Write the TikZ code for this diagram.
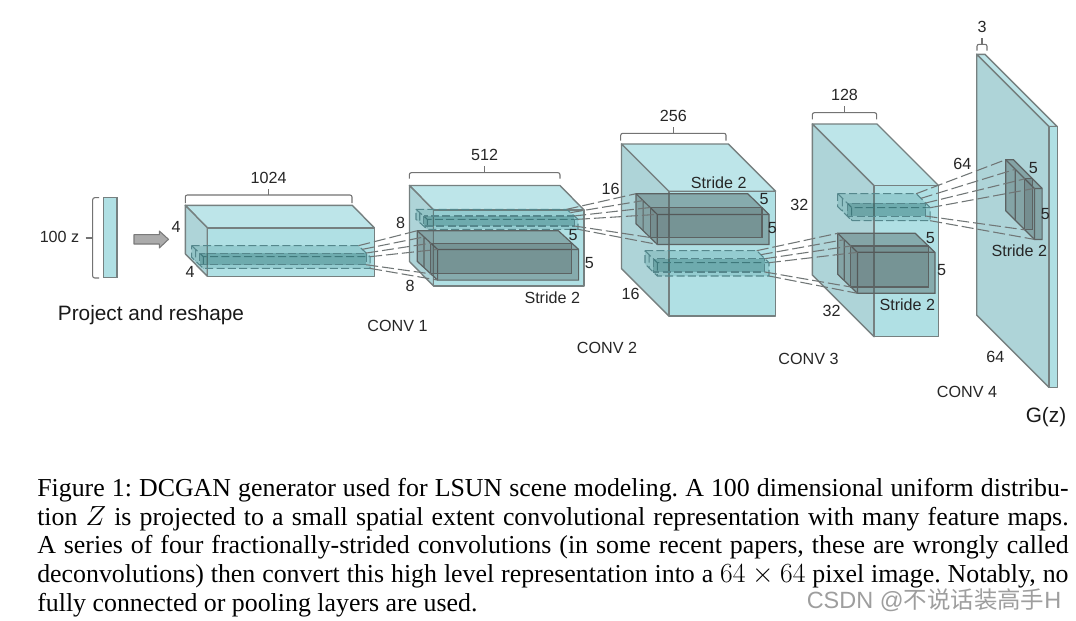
\documentclass[tikz,border=0pt]{standalone}
\usepackage[no-math]{fontspec}
\setmainfont{Liberation Serif}
\newfontfamily\arialfont{Liberation Sans}
\newfontfamily\cjkfont{Noto Sans CJK SC}
\usetikzlibrary{calc}
\definecolor{faceF}{RGB}{176,224,228}
\definecolor{faceT}{RGB}{189,229,233}
\definecolor{faceL}{RGB}{174,212,216}
\definecolor{edge}{RGB}{118,128,128}
\definecolor{kedge}{RGB}{92,98,98}
\definecolor{linkc}{RGB}{112,118,118}
\definecolor{dashc}{RGB}{85,135,140}
\tikzset{
  x=0.75pt,y=-0.75pt,
  cubeedge/.style={draw=edge,line width=1.05pt,line join=round},
  lab/.style={font=\arialfont\fontsize{12.1}{14}\selectfont,inner sep=0pt,text=black!85},
  bigl/.style={font=\arialfont\fontsize{15.6}{18}\selectfont,inner sep=0pt,text=black!90},
  bracket/.style={draw=black!55,line width=0.8pt,rounded corners=1.5pt},
  link/.style={draw=linkc,line width=0.8pt,dash pattern=on 9pt off 3pt},
  solidk/.style={draw=kedge,line width=0.9pt,fill=black!55!teal!40!gray,fill opacity=0.42},
  solidm/.style={draw=kedge,line width=0.9pt,fill=black!55!gray,fill opacity=0.2},
  dashk/.style={draw=dashc,line width=0.8pt,dash pattern=on 6pt off 2.5pt,fill=teal!70!gray,fill opacity=0.2},
  dashm/.style={draw=dashc,line width=0.8pt,dash pattern=on 6pt off 2.5pt,fill=teal!60!black,fill opacity=0.25},
}
% #1 name, #2 x, #3 y, #4 w, #5 dx, #6 dy, #7 h
\newcommand\cubeblock[7]{%
  \coordinate (#1-o) at (#2,#3);
  \fill[faceT,cubeedge] (#2,#3) -- ({#2+#4},#3) -- ({#2+#4+#5},{#3+#6}) -- ({#2+#5},{#3+#6}) -- cycle;
  \fill[faceL,cubeedge] (#2,#3) -- ({#2+#5},{#3+#6}) -- ({#2+#5},{#3+#6+#7}) -- (#2,{#3+#7}) -- cycle;
  \fill[faceF,cubeedge] ({#2+#5},{#3+#6}) rectangle ({#2+#4+#5},{#3+#6+#7});
}
% #1 outer style, #2 inner style, #3 name, #4 x, #5 y, #6 w, #7 dx, #8 dy, #9 h
\newcommand\kernelbox[9]{%
  \pgfmathsetmacro\kxa{#4+#7/3}\pgfmathsetmacro\kya{#5+#8/3}%
  \pgfmathsetmacro\kxb{#4+2*#7/3}\pgfmathsetmacro\kyb{#5+2*#8/3}%
  \coordinate (#3-a) at (#4,#5);
  \coordinate (#3-b) at (\kxa,\kya);
  \coordinate (#3-c) at (\kxb,\kyb);
  \coordinate (#3-d) at ({#4+#7},{#5+#8});
  \coordinate (#3-e) at (\kxb,{\kyb+#9});
  \coordinate (#3-f) at ({#4+#7},{#5+#8+#9});
  \coordinate (#3-A) at ({#4+#6},#5);
  \coordinate (#3-B) at ({\kxa+#6},\kya);
  \coordinate (#3-C) at ({\kxb+#6},\kyb);
  \coordinate (#3-D) at ({#4+#7+#6},{#5+#8});
  \coordinate (#3-E) at ({\kxb+#6},{\kyb+#9});
  \coordinate (#3-F) at ({#4+#7+#6},{#5+#8+#9});
  \path[#1] (#3-a) -- (#3-A) -- (#3-D) -- (#3-F) -- (#3-f) -- (#4,{#5+#9}) -- cycle;
  \path[#1,fill=none] (#3-a) -- (#3-d) -- (#3-D) (#3-d) -- (#3-f)
     (#3-b) -- (\kxa,{\kya+#9});
  \path[#2] (#3-c) rectangle (#3-E);
}
\newcommand\bracketup[7]{% name,x1,x2,ybottom,ytop,ytick,label
  \draw[bracket] (#2,#4) -- (#2,#5) -- (#3,#5) -- (#3,#4);
  \draw[bracket] ({(#2+#3)/2},#5) -- ({(#2+#3)/2},#6);
  \node[lab] (#1) at ({(#2+#3)/2},{#6-11.5}) {#7};
}
\begin{document}
\begin{tikzpicture}
\useasboundingbox (0,0) rectangle (1076,621);
\fill[white] (0,0) rectangle (1076,621);

% input
\draw[bracket] (99,197.7) -- (92.7,197.7) -- (92.7,278) -- (99,278);
\draw[bracket] (85.7,238) -- (92.7,238);
\node[lab] (zlab) at (59.5,237) {100 z};
\node[draw=edge,line width=1pt,fill=faceF,minimum width=10.2pt,minimum height=60pt,inner sep=0pt] (zbar) at (110.2,237.8) {};
\draw[fill=black!33,draw=black!52,line width=0.8pt,line join=round]
  (134,234.7) -- (159.3,234.7) -- (159.3,231) -- (168.5,239.3) -- (159.3,248) -- (159.3,244) -- (134,244) -- cycle;
\node[bigl] (proj) at (151,315) {Project and reshape};

% blocks
\cubeblock{b0}{185.3}{205.3}{167}{22}{22.5}{48.5}
\kernelbox{dashk}{dashm}{k0}{191.7}{245.7}{166.7}{11.7}{11}{11.7}

\cubeblock{b1}{409.5}{185.5}{150.5}{24}{24.5}{76}
\kernelbox{solidk}{solidm}{k1a}{417.3}{230.7}{141}{20.3}{18.7}{30.7}
\kernelbox{dashk}{dashm}{k1b}{416}{209.3}{150.7}{11.3}{10}{10}

\cubeblock{b2}{621.5}{144}{106.8}{47.3}{47.3}{124.7}
\kernelbox{solidk}{solidm}{k2a}{636}{193.7}{111.7}{21.3}{20.7}{30}
\kernelbox{dashk}{dashm}{k2b}{645}{250.7}{111.7}{12.3}{12}{13.3}

\cubeblock{b3}{812.3}{124}{64.7}{61.7}{61.7}{151}
\kernelbox{solidk}{solidm}{k3a}{837.7}{233.3}{77.5}{19.7}{19}{41}
\kernelbox{dashk}{dashm}{k3b}{837.7}{193.7}{78.5}{14}{14}{13}

\cubeblock{b4}{976.7}{54.3}{8.3}{72.3}{72.3}{260.7}
\kernelbox{solidk}{solidm}{k4a}{1005.7}{159.7}{7.7}{28.7}{28.7}{51}

% connectors
\foreach \s/\t in {A/a,B/b,C/c,D/d,E/e,F/f}{
  \draw[link] (k0-\s) -- (k1a-\t);
  \draw[link] (k1b-\s) -- (k2a-\t);
  \draw[link] (k2b-\s) -- (k3a-\t);
  \draw[link] (k3b-\s) -- (k4a-\t);
}

% brackets
\bracketup{t1024}{185.3}{352}{203}{195}{189}{1024}
\bracketup{t512}{409.3}{560}{178.5}{172.7}{166}{512}
\bracketup{t256}{620.7}{726}{140.7}{133.3}{127}{256}
\bracketup{t128}{812.3}{876.7}{119.3}{112.7}{106}{128}
\bracketup{t3}{977}{987}{50.7}{44.3}{38.3}{3}

% labels
\foreach \n/\x/\y/\t in {
 l1/176/226.7/4, l2/190/272.3/4,
 l3/400.7/222.7/8, l4/410/285.7/8, l5/573/234.7/5, l6/589.3/263.3/5,
 l7/552.3/297.7/Stride 2, l8/610.7/188.7/16,
 l9/718.7/183/Stride 2, l10/764/199.3/5, l11/772.3/227.7/5, l12/630.7/294/16,
 l13/799.3/205.3/32, l14/831.7/310.7/32,
 l15/930.3/238/5, l16/941.7/269.7/5, l17/907.3/305/Stride 2,
 l18/962.3/164.3/64, l19/1033.3/168.3/5, l20/1045.3/214.3/5, l21/1019.3/251/Stride 2,
 l22/995.3/357.3/64,
 c1/397.5/325.5/CONV 1, c2/607/347.5/CONV 2, c3/808.5/359/CONV 3, c4/967/392/CONV 4}
 {\node[lab] (\n) at (\x,\y) {\t};}
\node[bigl] (gz) at (1046,417) {G(z)};

% caption
\node[anchor=north west,inner sep=0pt,text width=773.5pt,align=justify,
      font=\fontsize{19.4}{21.56}\selectfont\frenchspacing,text=black] (cap) at (37,478) {%
Figure 1: DCGAN generator used for LSUN scene modeling. A 100 dimensional uniform distribu-\linebreak
tion $Z$ is projected to a small spatial extent convolutional representation with many feature maps.\linebreak
A series of four fractionally-strided convolutions (in some recent papers, these are wrongly called\linebreak
deconvolutions) then convert this high level representation into a $64\times 64$ pixel image. Notably, no\linebreak
fully connected or pooling layers are used.};

% watermark
\node[anchor=west,inner sep=0pt,text=black!38,font=\arialfont\fontsize{17.6}{20}\selectfont] (wm) at (806.5,600)
  {CSDN @{\cjkfont 不说话装高手}H};
\end{tikzpicture}
\end{document}
